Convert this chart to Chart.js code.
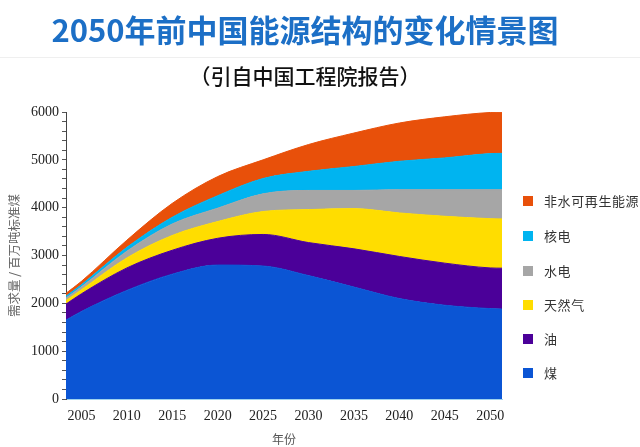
<!DOCTYPE html>
<html>
<head>
<meta charset="utf-8">
<script src="https://cdn.jsdelivr.net/npm/chart.js@4.4.0/dist/chart.umd.min.js"></script>
<style>
  html, body { margin:0; padding:0; background:#fff; }
  #wrap { position:relative; width:640px; height:447px; overflow:hidden; }
  #title { position:absolute; left:0; width:610px; top:8px; text-align:center;
    font-family:"Noto Sans CJK SC", sans-serif; font-weight:700; font-size:31px; line-height:42px;
    color:#1c6fc6; letter-spacing:0px; }
  #sep { position:absolute; left:0; top:57px; width:640px; height:1px; background:#efefef; }
  #subtitle { position:absolute; left:0; width:610px; top:61px; text-align:center;
    font-family:"Noto Sans CJK SC", sans-serif; font-weight:500; font-size:21px; line-height:28px; color:#111; }
  #legend { position:absolute; left:523px; top:0; }
  .item { position:absolute; left:0; white-space:nowrap; height:16px; }
  .sw { position:absolute; left:0; top:3px; width:10px; height:10px; }
  .lb { position:absolute; left:21px; top:-1px; font-family:"Noto Sans CJK SC", sans-serif;
    font-size:13px; line-height:18px; color:#333; letter-spacing:0.6px; }
  canvas { position:absolute; left:0; top:0; }
</style>
</head>
<body>
<div id="wrap">
  <canvas id="c" width="640" height="447"></canvas>
  <div id="title">2050年前中国能源结构的变化情景图</div>
  <div id="sep"></div>
  <div id="subtitle">（引自中国工程院报告）</div>
  <div id="legend"></div>
</div>
<script>
// x positions (years); first and last are the plot edges
const years = [2003.3, 2005, 2010, 2015, 2020, 2025, 2030, 2035, 2040, 2045, 2050, 2051.3];
const xTickYears = [2005, 2010, 2015, 2020, 2025, 2030, 2035, 2040, 2045, 2050];
const yTickLabels = [0, 1000, 2000, 3000, 4000, 5000, 6000];

const seriesNames = ['煤', '油', '天然气', '水电', '核电', '非水可再生能源'];
const coal    = [1650, 1830, 2270, 2610, 2800, 2780, 2580, 2340, 2100, 1960, 1890, 1880];
const oil     = [ 335,  370,  470,  500,  560,  660,  690,  800,  880,  880,  850,  855];
const gas     = [  75,   85,  210,  310,  350,  480,  690,  840,  910,  980, 1030, 1030];
const hydro   = [  50,   60,  140,  240,  280,  370,  400,  380,  485,  555,  605,  610];
const nuclear = [  40,   45,   80,  140,  260,  320,  400,  500,  595,  665,  755,  760];
const renew   = [  60,   70,  150,  290,  400,  390,  560,  700,  800,  860,  860,  860];

const colors = ['#0b55d4', '#4b0099', '#ffdd00', '#a6a6a6', '#00b4f0', '#e8500a'];
const allSeries = [coal, oil, gas, hydro, nuclear, renew];

const datasets = allSeries.map((arr, i) => ({
  label: seriesNames[i],
  data: arr.map((v, k) => ({x: years[k], y: v})),
  backgroundColor: colors[i],
  borderColor: colors[i],
  borderWidth: 1,
  pointRadius: 0,
  fill: i === 0 ? 'origin' : '-1',
  cubicInterpolationMode: 'monotone'
}));

// HTML legend (reversed order, as in the reference)
const legend = document.getElementById('legend');
const legendTops = [193, 228, 263, 297, 331, 365];
for (let j = 0; j < seriesNames.length; j++) {
  const i = seriesNames.length - 1 - j;
  const d = document.createElement('div');
  d.className = 'item';
  d.style.top = legendTops[j] + 'px';
  d.innerHTML = '<span class="sw" style="background:' + colors[i] + '"></span><span class="lb">' + seriesNames[i] + '</span>';
  legend.appendChild(d);
}

new Chart(document.getElementById('c'), {
  type: 'line',
  data: { datasets },
  options: {
    responsive: false,
    animation: false,
    layout: { padding: { top: 112, right: 138, left: 0, bottom: 0 } },
    plugins: { legend: { display: false }, tooltip: { enabled: false } },
    elements: { line: { borderJoinStyle: 'round' } },
    scales: {
      x: {
        type: 'linear',
        min: years[0],
        max: years[years.length - 1],
        afterBuildTicks: (s) => { s.ticks = xTickYears.map(v => ({value: v})); },
        afterFit: (s) => { s.height = 48; },
        grid: { display: false, drawTicks: false },
        border: { display: true, color: '#9fd3ee', width: 1 },
        ticks: { padding: 9, autoSkip: false, maxRotation: 0, color: '#222',
          font: { family: '"Liberation Serif", serif', size: 14 },
          callback: (v) => String(v) },
        title: { display: true, text: '年份', color: '#555', padding: { top: 0, bottom: 0 },
          font: { family: '"Noto Sans CJK SC", sans-serif', size: 12 } }
      },
      y: {
        stacked: true,
        min: 0,
        max: 6000,
        afterFit: (s) => { s.width = 66; },
        afterBuildTicks: (s) => {
          const t = [];
          for (let v = 0; v <= 6000; v += 200) t.push({value: v});
          s.ticks = t;
        },
        grid: { drawOnChartArea: false, drawTicks: true, tickLength: 4, color: '#555' },
        border: { display: true, color: '#444', width: 1 },
        ticks: { padding: 3, autoSkip: false, color: '#222',
          font: { family: '"Liberation Serif", serif', size: 14 },
          callback: (v) => yTickLabels.includes(v) ? String(v) : '' },
        title: { display: true, text: '需求量 / 百万吨标准煤', color: '#666', padding: { top: 7, bottom: 0 },
          font: { family: '"Noto Sans CJK SC", sans-serif', size: 12.5 } }
      }
    }
  }
});
</script>
</body>
</html>
